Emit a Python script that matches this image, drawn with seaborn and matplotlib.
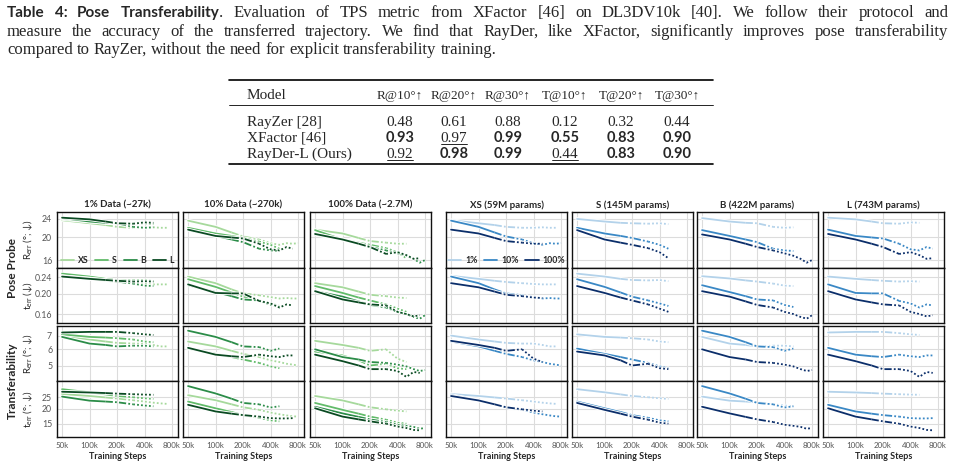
import matplotlib
matplotlib.use("Agg")
import matplotlib.pyplot as plt
import matplotlib.patheffects as pe
from matplotlib.lines import Line2D
import seaborn as sns

# ---------------- table ----------------
methods = ["RayZer [28]", "XFactor [46]", "RayDer-L (Ours)"]
metric_cols = ["R@10°↑", "R@20°↑", "R@30°↑", "T@10°↑", "T@20°↑", "T@30°↑"]
rayzer = ["0.48", "0.61", "0.88", "0.12", "0.32", "0.44"]
xfactor = ["0.93", "0.97", "0.99", "0.55", "0.83", "0.90"]
rayder = ["0.92", "0.98", "0.99", "0.44", "0.83", "0.90"]
# b = best (bold), u = second (underlined)
rayzer_mark = ["", "", "", "", "", ""]
xfactor_mark = ["b", "u", "b", "b", "b", "b"]
rayder_mark = ["u", "b", "b", "u", "b", "b"]

# ---------------- curves ----------------
steps = [50, 100, 150, 200, 300, 400, 500, 600, 700, 800]  # thousands
models = ["XS", "S", "B", "L"]
fracs = ["1%", "10%", "100%"]

# rotation error, pose probe
rpp_xs_1 = [23.7, 23.0, 22.6, 22.2, 22.0, 22.0, 22.1, 22.0, 22.0]
rpp_xs_10 = [23.6, 22.2, 21.0, 20.2, 19.6, 18.9, 18.6, 18.9, 18.8, 18.9]
rpp_xs_100 = [21.6, 20.8, 19.9, 19.3, 19.0, 18.8, 18.8]
rpp_s_1 = [24.0, 23.4, 23.1, 23.0, 22.9, 23.0, 22.8]
rpp_s_10 = [22.0, 20.8, 20.3, 19.9, 19.2, 18.6, 17.9]
rpp_s_100 = [21.5, 19.6, 19.0, 18.6, 18.0, 17.3, 16.3]
rpp_b_1 = [24.2, 23.4, 23.1, 23.0, 22.2, 22.0, 22.1]
rpp_b_10 = [21.5, 20.3, 19.6, 19.1, 17.9, 17.6, 17.5]
rpp_b_100 = [20.6, 19.6, 18.8, 18.2, 17.6, 17.1, 16.7, 16.2, 15.6, 16.0]
rpp_l_1 = [24.3, 23.9, 23.4, 23.0, 22.9, 23.2, 23.1]
rpp_l_10 = [21.6, 20.3, 20.0, 19.8, 18.8, 17.8, 17.6, 18.2, 17.9]
rpp_l_100 = [20.7, 19.6, 18.8, 18.2, 17.0, 17.3, 16.8, 16.2, 16.3]

# translation error, pose probe
tpp_xs_1 = [0.244, 0.236, 0.231, 0.228, 0.225, 0.223, 0.222, 0.222, 0.222]
tpp_xs_10 = [0.242, 0.225, 0.210, 0.201, 0.197, 0.193, 0.190, 0.191, 0.190, 0.190]
tpp_xs_100 = [0.225, 0.215, 0.205, 0.198, 0.195, 0.192, 0.191]
tpp_s_1 = [0.250, 0.242, 0.236, 0.233, 0.232, 0.233, 0.230]
tpp_s_10 = [0.235, 0.216, 0.203, 0.194, 0.186, 0.180, 0.175]
tpp_s_100 = [0.218, 0.202, 0.192, 0.186, 0.178, 0.170, 0.164]
tpp_b_1 = [0.243, 0.237, 0.232, 0.229, 0.224, 0.219, 0.218]
tpp_b_10 = [0.220, 0.204, 0.195, 0.188, 0.186, 0.177, 0.173]
tpp_b_100 = [0.206, 0.194, 0.184, 0.177, 0.172, 0.164, 0.160, 0.155, 0.152, 0.158]
tpp_l_1 = [0.242, 0.236, 0.233, 0.231, 0.229, 0.230, 0.229]
tpp_l_10 = [0.222, 0.202, 0.201, 0.201, 0.185, 0.180, 0.172, 0.178, 0.176]
tpp_l_100 = [0.206, 0.188, 0.182, 0.178, 0.176, 0.164, 0.160, 0.156, 0.158]

# rotation error, transferability
rtr_xs_1 = [7.0, 6.7, 6.55, 6.45, 6.4, 6.4, 6.3, 6.2, 6.2]
rtr_xs_10 = [6.55, 6.2, 5.9, 5.7, 5.5, 5.3, 5.2, 5.1, 5.05, 5.0]
rtr_xs_100 = [6.6, 6.3, 6.1, 5.9, 6.0, 5.4, 5.2]
rtr_s_1 = [7.1, 6.9, 6.85, 6.8, 6.7, 6.55, 6.5]
rtr_s_10 = [6.05, 5.7, 5.5, 5.35, 5.15, 4.95, 4.85]
rtr_s_100 = [5.85, 5.6, 5.3, 5.0, 5.1, 4.85, 4.8]
rtr_b_1 = [6.9, 6.4, 6.3, 6.2, 6.25, 6.25, 6.2]
rtr_b_10 = [7.4, 6.9, 6.5, 6.2, 6.15, 5.9, 6.05]
rtr_b_100 = [6.0, 5.5, 5.35, 5.2, 5.15, 5.05, 4.95, 4.8, 4.7, 4.75]
rtr_l_1 = [7.25, 7.3, 7.3, 7.3, 7.2, 7.1, 7.05]
rtr_l_10 = [6.1, 5.65, 5.55, 5.5, 5.65, 5.55, 5.5, 5.6, 5.6]
rtr_l_100 = [5.65, 5.25, 5.0, 4.8, 4.8, 4.7, 4.4, 4.65, 4.6]

# translation error, transferability
ttr_xs_1 = [26.6, 25.6, 24.9, 24.4, 23.6, 23.0, 22.5, 22.2, 22.0]
ttr_xs_10 = [26.0, 23.6, 21.8, 20.6, 19.6, 18.6, 18.0, 17.6, 17.3, 17.2]
ttr_xs_100 = [25.6, 23.5, 21.8, 20.6, 19.8, 19.3, 19.0]
ttr_s_1 = [29.2, 27.5, 26.4, 25.6, 25.0, 24.5, 24.2]
ttr_s_10 = [23.0, 20.2, 18.8, 17.7, 16.8, 16.0, 15.7]
ttr_s_100 = [22.4, 19.6, 18.2, 17.2, 16.2, 15.3, 15.0]
ttr_b_1 = [25.3, 23.4, 23.0, 22.7, 21.8, 21.3, 21.0]
ttr_b_10 = [31.0, 26.9, 24.3, 22.4, 21.8, 20.5, 21.0]
ttr_b_100 = [20.8, 18.3, 17.1, 16.3, 15.5, 14.7, 14.4, 14.1, 13.6, 13.8]
ttr_l_1 = [27.8, 27.4, 27.1, 26.8, 26.5, 26.3, 26.2]
ttr_l_10 = [21.6, 19.0, 18.2, 17.7, 17.2, 16.7, 16.6, 16.6, 16.7]
ttr_l_100 = [20.2, 17.2, 16.3, 15.7, 15.0, 14.2, 13.8, 13.3, 13.2]

runs = {
    ("XS", "1%"): [rpp_xs_1, tpp_xs_1, rtr_xs_1, ttr_xs_1],
    ("XS", "10%"): [rpp_xs_10, tpp_xs_10, rtr_xs_10, ttr_xs_10],
    ("XS", "100%"): [rpp_xs_100, tpp_xs_100, rtr_xs_100, ttr_xs_100],
    ("S", "1%"): [rpp_s_1, tpp_s_1, rtr_s_1, ttr_s_1],
    ("S", "10%"): [rpp_s_10, tpp_s_10, rtr_s_10, ttr_s_10],
    ("S", "100%"): [rpp_s_100, tpp_s_100, rtr_s_100, ttr_s_100],
    ("B", "1%"): [rpp_b_1, tpp_b_1, rtr_b_1, ttr_b_1],
    ("B", "10%"): [rpp_b_10, tpp_b_10, rtr_b_10, ttr_b_10],
    ("B", "100%"): [rpp_b_100, tpp_b_100, rtr_b_100, ttr_b_100],
    ("L", "1%"): [rpp_l_1, tpp_l_1, rtr_l_1, ttr_l_1],
    ("L", "10%"): [rpp_l_10, tpp_l_10, rtr_l_10, ttr_l_10],
    ("L", "100%"): [rpp_l_100, tpp_l_100, rtr_l_100, ttr_l_100],
}

col_titles = ["1% Data (~27k)", "10% Data (~270k)", "100% Data (~2.7M)",
              "XS (59M params)", "S (145M params)", "B (422M params)", "L (743M params)"]
row_labels = ["R$_{\\mathrm{err}}$ (°; ↓)", "t$_{\\mathrm{err}}$ (↓)",
              "R$_{\\mathrm{err}}$ (°; ↓)", "t$_{\\mathrm{err}}$ (°; ↓)"]
yticks = [[16, 20, 24], [0.16, 0.20, 0.24], [5, 6, 7], [15, 20, 25]]
yticklabels = [["16", "20", "24"], ["0.16", "0.20", "0.24"], ["5", "6", "7"], ["15", "20", "25"]]
ylims = [(14.8, 25.7), (0.145, 0.266), (4.2, 7.8), (11.6, 34.2)]
xticks = [50, 100, 200, 400, 800]

green = {"XS": "#a6d99c", "S": "#62bb6a", "B": "#2b8c48", "L": "#0a4a22"}
blue = {"1%": "#b3d2ea", "10%": "#3a88c5", "100%": "#0b2e6a"}

sns.set_theme(style="white")
SANS = ["Lato", "DejaVu Sans"]
SERIF = ["Liberation Serif", "DejaVu Serif"]
plt.rcParams["font.family"] = SANS
plt.rcParams["mathtext.fontset"] = "custom"
plt.rcParams["mathtext.rm"] = "Lato"

fig = plt.figure(figsize=(9.55, 4.7), dpi=100)
bg = fig.add_axes([0, 0, 1, 1])
bg.set_xlim(0, 955)
bg.set_ylim(470, 0)
bg.axis("off")
rend = fig.canvas.get_renderer()

# ---------------- caption ----------------
ser = dict(family=SERIF, fontsize=12)
snb = dict(family=SANS, fontsize=11, fontweight="bold")


def caption_line(words, y, x0, x1, justify=True):
    items = []
    for w in words:
        if isinstance(w, str):
            w = [(w, ser)]
        items.append([bg.text(0, y, s, va="baseline", ha="left", **kw) for s, kw in w])
    widths = [[p.get_window_extent(rend).width for p in parts] for parts in items]
    total = sum(sum(ws) for ws in widths)
    gap = (x1 - x0 - total) / (len(items) - 1) if justify else 4.0
    x = x0
    for parts, ws in zip(items, widths):
        for p, wd in zip(parts, ws):
            p.set_x(x)
            x += wd
        x += gap


line1 = [[("Table", snb)], [("4:", snb)], [("Pose", snb)],
         [("Transferability", snb), (".", ser)]] + \
    "Evaluation of TPS metric from XFactor [46] on DL3DV10k [40]. We follow their protocol and".split()
line2 = "measure the accuracy of the transferred trajectory. We find that RayDer, like XFactor, significantly improves pose transferability".split()
line3 = "compared to RayZer, without the need for explicit transferability training.".split()
caption_line(line1, 17, 7, 948)
caption_line(line2, 36, 7, 948)
caption_line(line3, 54, 7, 948, justify=False)

# ---------------- table ----------------
tx0, tx1 = 229, 713
col_cx = [400, 454, 508, 565, 621, 677]
bg.plot([tx0, tx1], [80, 80], color="black", lw=1.2)
bg.plot([tx0, tx1], [105, 105], color="black", lw=0.6)
bg.plot([tx0, tx1], [164, 164], color="black", lw=1.2)
bg.text(247, 99, "Model", family=SERIF, fontsize=11, va="baseline")
for cx, h in zip(col_cx, metric_cols):
    bg.text(cx, 99, h, family=SERIF, fontsize=9.5, ha="center", va="baseline")
for yb, name, vals, marks in zip([126, 142, 158], methods,
                                 [rayzer, xfactor, rayder],
                                 [rayzer_mark, xfactor_mark, rayder_mark]):
    bg.text(247, yb, name, family=SERIF, fontsize=11, va="baseline")
    for cx, v, m in zip(col_cx, vals, marks):
        if m == "b":
            bg.text(cx, yb, v, family=SANS, fontsize=10.5, fontweight="bold",
                    ha="center", va="baseline")
        else:
            t = bg.text(cx, yb, v, family=SERIF, fontsize=11, ha="center", va="baseline")
            if m == "u":
                wd = t.get_window_extent(rend).width
                bg.plot([cx - wd / 2, cx + wd / 2], [yb + 2, yb + 2], color="black", lw=0.6)

# ---------------- small multiples ----------------
col_x = [57, 183, 310, 446, 572, 697, 823]
row_y = [212, 268, 326, 381]
row_h = [56, 55, 55, 56]
PW = 121
halo = [pe.Stroke(linewidth=2.6, foreground="white"), pe.Normal()]
segments = [(50, 150, "-"), (150, 300, (0, (4, 1.2, 1, 1.2))), (300, 800, (0, (1, 1.2)))]


def draw_run(ax, vals, color):
    xs = steps[:len(vals)]
    for lo, hi, ls in segments:
        idx = [i for i, s in enumerate(xs) if lo <= s <= hi]
        if len(idx) < 2:
            continue
        sns.lineplot(x=[xs[i] * 1000 for i in idx], y=[vals[i] for i in idx], ax=ax,
                     color=color, lw=1.3, linestyle=ls, estimator=None, sort=False,
                     legend=False, path_effects=halo)


for c in range(7):
    for r in range(4):
        ax = fig.add_axes([col_x[c] / 955, 1 - (row_y[r] + row_h[r]) / 470,
                           PW / 955, row_h[r] / 470])
        if c < 3:
            frac = fracs[c]
            for m in models:
                draw_run(ax, runs[(m, frac)][r], green[m])
        else:
            m = models[c - 3]
            for frac in fracs:
                draw_run(ax, runs[(m, frac)][r], blue[frac])
        ax.set_xscale("log")
        ax.set_yscale("log")
        ax.set_xlim(44000, 930000)
        ax.set_ylim(*ylims[r])
        ax.set_xticks([v * 1000 for v in xticks])
        ax.set_yticks(yticks[r])
        ax.minorticks_off()
        ax.grid(True, color="#dcdcdc", lw=0.8)
        ax.set_axisbelow(True)
        for sp in ax.spines.values():
            sp.set_color("#111111")
            sp.set_linewidth(1.0)
        ax.set_xlabel("")
        ax.set_ylabel("")
        ax.tick_params(axis="both", labelsize=6.3, labelcolor="#555555", color="#555555",
                       length=2, width=0.6, pad=1.5)
        if c == 0:
            ax.set_yticklabels(yticklabels[r])
        else:
            ax.tick_params(axis="y", labelleft=False, length=0 if c in (1, 2) else 2)
        if r == 3:
            ax.set_xticklabels([f"{v}k" for v in xticks])
            ax.tick_params(axis="x", labelsize=5.7)
            ax.set_xlabel("Training Steps", fontsize=6.5, fontweight="bold", labelpad=2)
        else:
            ax.tick_params(axis="x", labelbottom=False, length=0)
        if r == 0:
            ax.set_title(col_titles[c], fontsize=7, fontweight="bold", pad=3)
        if r == 0 and c == 0:
            hs = [Line2D([], [], color=green[m], lw=1.3) for m in models]
            ax.legend(hs, models, loc="lower center", ncol=4, frameon=False,
                      prop=dict(size=6.3, weight="bold"), handlelength=1.5,
                      columnspacing=0.8, handletextpad=0.4, borderaxespad=0.1,
                      borderpad=0.2)
        if r == 0 and c == 3:
            hs = [Line2D([], [], color=blue[f], lw=1.3) for f in fracs]
            ax.legend(hs, fracs, loc="lower center", ncol=3, frameon=False,
                      prop=dict(size=6.3, weight="bold"), handlelength=1.5,
                      columnspacing=0.8, handletextpad=0.4, borderaxespad=0.1,
                      borderpad=0.2)

for r in range(4):
    fig.text(28 / 955, 1 - (row_y[r] + row_h[r] / 2) / 470, row_labels[r], rotation=90,
             ha="center", va="center", fontsize=7)
fig.text(12 / 955, 1 - 268 / 470, "Pose Probe", rotation=90, ha="center", va="center",
         fontsize=8.5, fontweight="bold")
fig.text(12 / 955, 1 - 381 / 470, "Transferability", rotation=90, ha="center", va="center",
         fontsize=8.5, fontweight="bold")

fig.savefig("out.png", dpi=100, facecolor="white")
